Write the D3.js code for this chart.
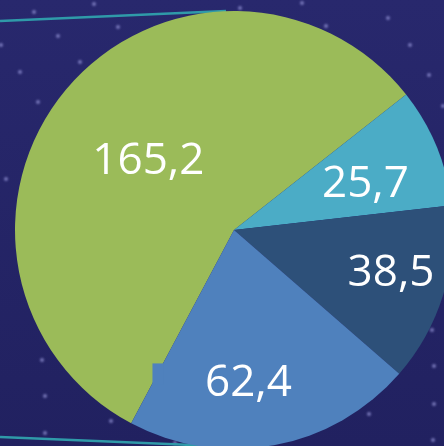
<!DOCTYPE html>
<html>
<head>
<meta charset="utf-8">
<script src="https://cdn.jsdelivr.net/npm/d3@7"></script>
<style>
  html, body { margin: 0; padding: 0; background: #25256a; overflow: hidden; }
  svg { display: block; }
</style>
</head>
<body>
<svg id="chart" width="444" height="446"></svg>
<script>
// Slice values (drawn clockwise) and their fill colours
const values = [165.2, 25.7, 38.5, 62.4];
const valueLabels = ["165,2", "25,7", "38,5", "62,4"];
const colors = ["#9bbb59", "#4bacc6", "#2d5079", "#4f81bd"];

// Label placement inside each slice: fraction of the radius, angular nudge (deg)
const labelRadius = [0.51, 0.64, 0.74, 0.69];
const labelNudge = [0, 2, -3, 5];

// Background decoration: faint star dots
const stars = [
  [34,12],[94,4],[58,36],[118,27],[80,62],[20,72],[38,102],[1,45],[6,179],
  [240,8],[302,3],[326,26],[388,18],[410,45],[429,75],[443,106],
  [42,360],[45,396],[111,421],[45,433],[175,443],
  [369,414],[432,330],[434,366],[434,404],[433,440]
];

const W = 444, H = 446;
const cx = 234, cy = 230, R = 219;
const deg = Math.PI / 180;

const svg = d3.select("#chart");
const defs = svg.append("defs");

const bg = defs.append("linearGradient").attr("id", "bg")
  .attr("x1", 0).attr("y1", 0).attr("x2", 0).attr("y2", 1);
bg.append("stop").attr("offset", "0%").attr("stop-color", "#28286d");
bg.append("stop").attr("offset", "100%").attr("stop-color", "#212160");

defs.append("filter").attr("id", "soft")
  .attr("x", "-100%").attr("y", "-100%").attr("width", "300%").attr("height", "300%")
  .append("feGaussianBlur").attr("stdDeviation", 0.9);

svg.append("rect").attr("width", W).attr("height", H).attr("fill", "url(#bg)");

svg.append("g").attr("filter", "url(#soft)")
  .selectAll("circle").data(stars).join("circle")
  .attr("cx", d => d[0]).attr("cy", d => d[1]).attr("r", 2)
  .attr("fill", "#8f8fd0").attr("opacity", 0.75);

// Teal accent lines behind the pie
const accent = svg.append("g").attr("stroke", "#2f9aa9").attr("stroke-width", 2.4).attr("fill", "none");
accent.append("line").attr("x1", 0).attr("y1", 21).attr("x2", 226).attr("y2", 11);
accent.append("line").attr("x1", 0).attr("y1", 437).attr("x2", 240).attr("y2", 447);

// Pie
const pie = d3.pie().sort(null).value(d => d)
  .startAngle(-152 * deg).endAngle(208 * deg);
const arcs = pie(values);
const arc = d3.arc().innerRadius(0).outerRadius(R);

const g = svg.append("g").attr("transform", `translate(${cx},${cy})`);

g.selectAll("path.slice").data(arcs).join("path")
  .attr("class", "slice")
  .attr("d", arc)
  .attr("fill", (d, i) => colors[i]);

// Label positions along each slice's mid angle
const labelPos = arcs.map((d, i) => {
  const a = (d.startAngle + d.endAngle) / 2 + labelNudge[i] * deg;
  const r = R * labelRadius[i];
  return [Math.sin(a) * r, -Math.cos(a) * r];
});

// Small leftover patch of the blue slice's label box
const bp = labelPos[3];
g.append("rect")
  .attr("x", bp[0] - 96).attr("y", bp[1] - 17)
  .attr("width", 11).attr("height", 21)
  .attr("fill", colors[3]);

g.selectAll("text.val").data(arcs).join("text")
  .attr("class", "val")
  .attr("x", (d, i) => labelPos[i][0])
  .attr("y", (d, i) => labelPos[i][1])
  .attr("dy", "0.36em")
  .attr("text-anchor", "middle")
  .attr("fill", "#ffffff")
  .attr("font-family", "'Open Sans', 'Noto Sans', sans-serif")
  .attr("font-size", 44)
  .text((d, i) => valueLabels[i]);
</script>
</body>
</html>
